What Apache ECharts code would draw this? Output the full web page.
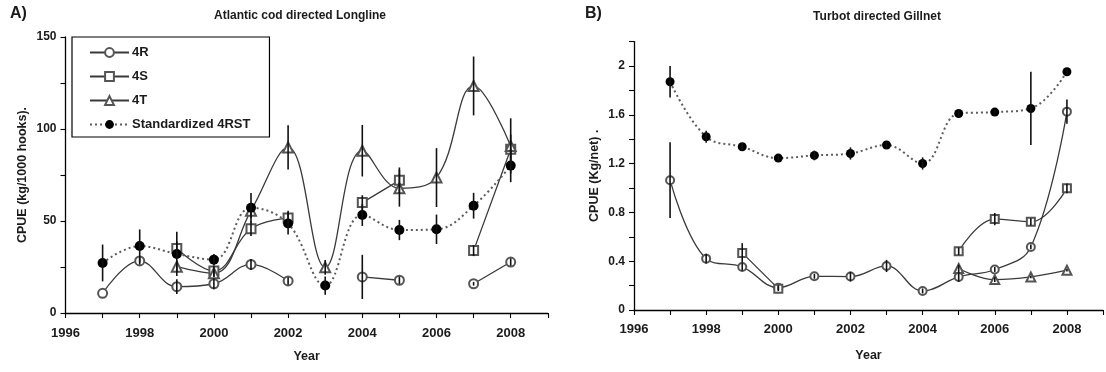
<!DOCTYPE html>
<html>
<head>
<meta charset="utf-8">
<script src="https://cdn.jsdelivr.net/npm/echarts@6/dist/echarts.min.js"></script>
<style>
  html, body { margin: 0; padding: 0; background: #fff; }
  #chart { width: 1106px; height: 372px; }
</style>
</head>
<body>
<div id="chart"></div>
<script>
// Survey years shared by both panels
const years = [1997, 1998, 1999, 2000, 2001, 2002, 2003, 2004, 2005, 2006, 2007, 2008];

// Panel A: Atlantic cod directed longline CPUE (kg/1000 hooks), null = no data
const codR   = [10.7, 28.3, 14.3, 15.9, 26.4, 17.4, null, 19.6, 17.8, null, 15.9, 27.7];
const codS   = [null, null, 35.0, 22.8, 45.8, 51.6, null, 60.0, 72.1, null, 33.9, 89.0];
const codT   = [null, null, 25.2, 21.6, 55.6, 90.0, 24.8, 88.2, 67.8, 73.6, 123.4, 90.8];
const codStd = [27.2, 36.4, 32.1, 29.0, 57.2, 48.6, 14.9, 53.3, 45.1, 45.5, 58.3, 80.1];
// standard errors (half bar lengths)
const codRErr   = [0, 2, 4, 3, 3, 2, 0, 12, 2, 0, 1, 2];
const codSErr   = [0, 0, 4, 3, 4, 4, 0, 4, 7, 0, 3, 8];
const codTErr   = [0, 0, 3, 2, 4, 12, 4, 14, 10, 16, 16, 15];
const codStdErr = [10, 9, 12, 3, 8, 6, 5, 6, 5.5, 8, 7, 9];

// Panel B: Turbot directed gillnet CPUE (kg/net)
const turR   = [1.064, 0.421, 0.353, 0.183, 0.276, 0.274, 0.361, 0.156, 0.271, 0.332, 0.517, 1.626];
const turS   = [null, null, 0.468, 0.175, null, null, null, null, 0.482, 0.745, 0.723, 0.997];
const turT   = [null, null, null, null, null, null, null, null, 0.340, 0.249, 0.271, 0.326];
const turStd = [1.871, 1.420, 1.338, 1.245, 1.267, 1.283, 1.352, 1.201, 1.611, 1.622, 1.652, 1.953];
const turRErr   = [0.31, 0.04, 0.03, 0.02, 0.02, 0.04, 0.05, 0.02, 0.04, 0.02, 0.02, 0.10];
const turSErr   = [0, 0, 0.08, 0.02, 0, 0, 0, 0, 0.03, 0.05, 0.03, 0.04];
const turTErr   = [0, 0, 0, 0, 0, 0, 0, 0, 0.03, 0.02, 0.01, 0.01];
const turStdErr = [0.13, 0.05, 0.03, 0.02, 0.04, 0.05, 0.03, 0.05, 0.03, 0.02, 0.30, 0.02];

// Tick settings
const xMin = 1996, xMax = 2009;
const codTicks = { min: 0, max: 150, step: 25, labelStep: 50 };
const turTicks = { min: 0, max: 2.2, step: 0.2, labelStep: 0.4 };

const names = ['4R', '4S', '4T', 'Standardized 4RST'];
const FONT = "'Liberation Sans', Arial, sans-serif";
const INK = '#1b1b1b';

const pairs = (vals) => years.map((y, i) => [y, vals[i] == null ? '-' : vals[i]]);
const errPairs = (vals, errs) => years
  .map((y, i) => (vals[i] == null || !errs[i]) ? null : [y, vals[i] - errs[i], vals[i] + errs[i]])
  .filter(Boolean);

function errSeries(idx, vals, errs) {
  return {
    type: 'custom', xAxisIndex: idx, yAxisIndex: idx, z: 5, silent: true,
    data: errPairs(vals, errs),
    renderItem: (params, api) => {
      const a = api.coord([api.value(0), api.value(1)]);
      const b = api.coord([api.value(0), api.value(2)]);
      return { type: 'line', shape: { x1: a[0], y1: a[1], x2: b[0], y2: b[1] },
               style: { stroke: '#111', lineWidth: 1.6 } };
    }
  };
}

function lineSeries(idx, name, vals, symbol, size) {
  return {
    type: 'line', name, xAxisIndex: idx, yAxisIndex: idx, z: 3,
    data: pairs(vals), smooth: 0.4, connectNulls: false,
    symbol, symbolSize: size, showSymbol: true,
    lineStyle: { color: '#3a3a3a', width: 1.3 },
    itemStyle: { color: '#555', borderColor: '#555', borderWidth: 1.1 },
    emphasis: { disabled: true }
  };
}

function stdSeries(idx, vals, size) {
  return {
    type: 'line', name: names[3], xAxisIndex: idx, yAxisIndex: idx, z: 4,
    data: pairs(vals), smooth: 0.4,
    symbol: 'circle', symbolSize: size,
    lineStyle: { color: '#5c5c5c', width: 2, type: [2, 3] },
    itemStyle: { color: '#000', borderColor: '#000', borderWidth: 0 },
    emphasis: { disabled: true }
  };
}

function xAxis(idx, gap, margin) {
  return {
    type: 'value', gridIndex: idx, min: xMin, max: xMax, interval: 1,
    name: 'Year', nameLocation: 'middle', nameGap: gap,
    nameTextStyle: { fontFamily: FONT, fontWeight: 'bold', fontSize: 12.5, color: INK },
    axisLine: { show: true, onZero: false, lineStyle: { color: '#000', width: 1.3 } },
    axisTick: { show: true, length: 5, lineStyle: { color: '#000', width: 1.1 } },
    axisLabel: { margin, fontFamily: FONT, fontWeight: 'bold', fontSize: 13, color: INK,
                 formatter: v => (v % 2 === 0 ? String(v) : '') },
    splitLine: { show: false }
  };
}

function yAxis(idx, t, name, gap) {
  return {
    type: 'value', gridIndex: idx, min: t.min, max: t.max, interval: t.step,
    name, nameLocation: 'middle', nameGap: gap,
    nameTextStyle: { fontFamily: FONT, fontWeight: 'bold', fontSize: 12.5, color: INK },
    axisLine: { show: true, onZero: false, lineStyle: { color: '#000', width: 1.3 } },
    axisTick: { show: true, length: 5, lineStyle: { color: '#000', width: 1.1 } },
    axisLabel: { margin: 9, fontFamily: FONT, fontWeight: 'bold', fontSize: 12, color: INK,
                 formatter: v => {
                   const k = Math.round(v / t.labelStep * 1000) / 1000;
                   return Number.isInteger(k) ? String(+v.toFixed(2)) : '';
                 } },
    splitLine: { show: false }
  };
}

const chart = echarts.init(document.getElementById('chart'), null, { renderer: 'canvas' });

chart.setOption({
  animation: false,
  backgroundColor: '#fff',
  grid: [
    { left: 65.5, top: 37, width: 482.3, height: 276 },
    { left: 634, top: 41.6, width: 474, height: 268.4 }
  ],
  xAxis: [xAxis(0, 37, 14), xAxis(1, 39, 13)],
  yAxis: [
    yAxis(0, codTicks, 'CPUE (kg/1000 hooks).', 36),
    yAxis(1, turTicks, 'CPUE (Kg/net) .', 33)
  ],
  legend: {
    data: names, orient: 'vertical', left: 72, top: 37,
    padding: [9, 19, 6, 17], itemGap: 11, itemWidth: 39, itemHeight: 11,
    borderColor: '#000', borderWidth: 1.2, backgroundColor: '#fff',
    textStyle: { fontFamily: FONT, fontWeight: 'bold', fontSize: 13, color: INK, padding: [0, 0, 0, -2] },
    selectedMode: false
  },
  graphic: [
    { type: 'text', left: 10, top: 6, style: { text: 'A)', font: `bold 16px ${FONT}`, fill: INK } },
    { type: 'text', x: 300, y: 16, style: { text: 'Atlantic cod directed Longline', font: `bold 12px ${FONT}`,
      fill: INK, textAlign: 'center', textVerticalAlign: 'middle' } },
    { type: 'text', left: 585, top: 6, style: { text: 'B)', font: `bold 16px ${FONT}`, fill: INK } },
    { type: 'text', x: 877, y: 17, style: { text: 'Turbot directed Gillnet', font: `bold 12px ${FONT}`,
      fill: INK, textAlign: 'center', textVerticalAlign: 'middle' } }
  ],
  series: [
    lineSeries(0, names[0], codR, 'emptyCircle', 9),
    lineSeries(0, names[1], codS, 'emptyRect', 9),
    lineSeries(0, names[2], codT, 'emptyTriangle', 10),
    stdSeries(0, codStd, 10),
    errSeries(0, codR, codRErr),
    errSeries(0, codS, codSErr),
    errSeries(0, codT, codTErr),
    errSeries(0, codStd, codStdErr),

    lineSeries(1, names[0], turR, 'emptyCircle', 8),
    lineSeries(1, names[1], turS, 'emptyRect', 8),
    lineSeries(1, names[2], turT, 'emptyTriangle', 9),
    stdSeries(1, turStd, 9),
    errSeries(1, turR, turRErr),
    errSeries(1, turS, turSErr),
    errSeries(1, turT, turTErr),
    errSeries(1, turStd, turStdErr)
  ]
});
</script>
</body>
</html>
